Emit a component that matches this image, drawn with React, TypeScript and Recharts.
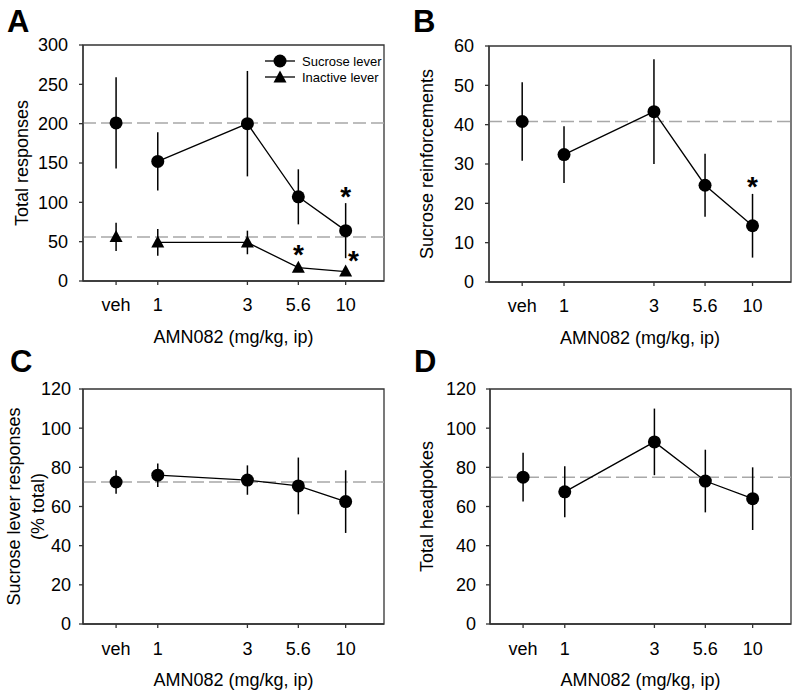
import {
  ComposedChart,
  Scatter,
  ErrorBar,
  XAxis,
  YAxis,
  ReferenceLine,
  ReferenceArea,
  Legend,
} from 'recharts';

const FONT = '"Liberation Sans", Arial, Helvetica, sans-serif';
const AXIS = '#333';

// dose axis is log; vehicle gets its own slot left of 1 mg/kg
const VEH_X = 0.6;
const doses = [1, 3, 5.6, 10];
const doseTicks = [VEH_X, 1, 3, 5.6, 10];
const doseLabels = ['veh', '1', '3', '5.6', '10'];
const X_DOMAIN = [0.4, 16];

// A - total responses
const respTicks = [0, 50, 100, 150, 200, 250, 300];
const legendNames = ['Sucrose lever', 'Inactive lever'];
const sucroseVeh = 201;
const sucroseVehErr = 58;
const sucroseLever = [152, 200, 107, 64];
const sucroseLeverErr = [37, 67, 35, 35];
const inactiveVeh = 56;
const inactiveVehErr = 18;
const inactiveLever = [49, 49, 17, 12];
const inactiveLeverErr = [17, 15, 4, 2];
const starsA = [
  { x: 10, y: 116 },
  { x: 5.6, y: 42 },
  { x: 11, y: 34 },
];

// B - sucrose reinforcements
const reinfTicks = [0, 10, 20, 30, 40, 50, 60];
const reinfVeh = 40.8;
const reinfVehErr = 10;
const reinf = [32.4, 43.3, 24.6, 14.3];
const reinfErr = [7.2, 13.3, 8, 8.1];
const starsB = [{ x: 10, y: 26 }];

// C - sucrose lever responses (% total)
const pctTicks = [0, 20, 40, 60, 80, 100, 120];
const pctVeh = 72.5;
const pctVehErr = 6;
const pct = [76, 73.5, 70.5, 62.5];
const pctErr = [6, 7.5, 14.5, 16];

// D - total headpokes
const headTicks = [0, 20, 40, 60, 80, 100, 120];
const headVeh = 75;
const headVehErr = 12.5;
const head = [67.5, 93, 73, 64];
const headErr = [13, 17, 16, 16];

const Dot = (p: any) => <circle cx={p.cx} cy={p.cy} r={6.5} fill="#000" />;
const Tri = (p: any) => (
  <path
    d={`M${p.cx},${p.cy - 7}L${p.cx + 6.5},${p.cy + 5}L${p.cx - 6.5},${p.cy + 5}Z`}
    fill="#000"
  />
);
const Star = (p: any) => (
  <text
    x={p.cx}
    y={p.cy + 16}
    textAnchor="middle"
    fontSize={28}
    fontWeight="bold"
    fontFamily={FONT}
    fill="#000"
  >
    *
  </text>
);

const XTitle = ({ viewBox }: any) => (
  <text
    x={viewBox.x + viewBox.width / 2}
    y={viewBox.y + 62}
    textAnchor="middle"
    fontSize={18}
    fontFamily={FONT}
    fill="#000"
  >
    AMN082 (mg/kg, ip)
  </text>
);

const YTitle = ({ viewBox, lines, dists }: any) => {
  const cy = viewBox.y + viewBox.height / 2;
  return (
    <g>
      {lines.map((t: string, i: number) => {
        const x = viewBox.x + viewBox.width - dists[i];
        return (
          <text
            key={t}
            x={x}
            y={cy}
            transform={`rotate(-90 ${x} ${cy})`}
            textAnchor="middle"
            fontSize={18}
            fontFamily={FONT}
            fill="#000"
          >
            {t}
          </text>
        );
      })}
    </g>
  );
};

// only the two dose series go in the key, sucrose first
const LegendBox = ({ payload }: any) => {
  const items = legendNames.filter((n) =>
    (payload || []).some((e: any) => e.value === n)
  );
  return (
    <div style={{ fontFamily: FONT, fontSize: 13, color: '#000', whiteSpace: 'nowrap' }}>
      {items.map((n) => (
        <div key={n} style={{ display: 'flex', alignItems: 'center', height: 16 }}>
          <svg width={30} height={16} style={{ marginRight: 7, flex: 'none' }}>
            <line x1={0} x2={30} y1={8} y2={8} stroke="#000" strokeWidth={1.3} />
            {n === 'Inactive lever' ? <Tri cx={15} cy={8.5} /> : <Dot cx={15} cy={8} />}
          </svg>
          <span>{n}</span>
        </div>
      ))}
    </div>
  );
};

const Panel = ({
  letter,
  left,
  top,
  height,
  margin,
  yTicks,
  yTitle,
  titleDists,
  yTickMargin,
  xTickMargin,
  groups,
  stars,
  showLegend,
  letterLeft,
}: any) => {
  const yMax = yTicks[yTicks.length - 1];
  return (
    <div style={{ position: 'absolute', left, top }}>
      <ComposedChart width={400} height={height} margin={margin}>
        <XAxis
          type="number"
          dataKey="x"
          scale="log"
          domain={X_DOMAIN}
          ticks={doseTicks}
          tickFormatter={(v: number) => doseLabels[doseTicks.indexOf(v)]}
          allowDataOverflow
          height={30}
          tickSize={4}
          tickMargin={xTickMargin}
          tick={{ fill: '#000', fontSize: 18, fontFamily: FONT }}
          axisLine={{ stroke: AXIS, strokeWidth: 1.3 }}
          tickLine={{ stroke: AXIS, strokeWidth: 1.3 }}
          label={<XTitle />}
        />
        <YAxis
          type="number"
          dataKey="y"
          domain={[0, yMax]}
          ticks={yTicks}
          width={60}
          tickSize={4}
          tickMargin={yTickMargin}
          tick={{ fill: '#000', fontSize: 18, fontFamily: FONT }}
          axisLine={{ stroke: AXIS, strokeWidth: 1.3 }}
          tickLine={{ stroke: AXIS, strokeWidth: 1.3 }}
          label={<YTitle lines={yTitle} dists={titleDists} />}
        />
        {groups.map((g: any) => (
          <ReferenceLine
            key={g.name + '-ref'}
            y={g.veh}
            stroke="#a8a8a8"
            strokeWidth={1.5}
            strokeDasharray="13 5"
          />
        ))}
        <ReferenceArea
          x1={X_DOMAIN[0]}
          x2={X_DOMAIN[1]}
          y1={0}
          y2={yMax}
          fill="none"
          fillOpacity={0}
          stroke={AXIS}
          strokeWidth={1.3}
        />
        {groups.flatMap((g: any) => [
          <Scatter
            key={g.name + '-veh'}
            name={g.name + ' veh'}
            data={[{ x: VEH_X, y: g.veh, err: g.vehErr }]}
            shape={g.shape}
            legendType="none"
            isAnimationActive={false}
          >
            <ErrorBar dataKey="err" direction="y" width={0} stroke="#000" strokeWidth={1.5} />
          </Scatter>,
          <Scatter
            key={g.name}
            name={g.name}
            data={doses.map((x, i) => ({ x, y: g.values[i], err: g.errs[i] }))}
            shape={g.shape}
            line={{ stroke: '#000', strokeWidth: 1.3 }}
            lineType="joint"
            isAnimationActive={false}
          >
            <ErrorBar dataKey="err" direction="y" width={0} stroke="#000" strokeWidth={1.5} />
          </Scatter>,
        ])}
        {stars && (
          <Scatter
            name="stars"
            data={stars}
            shape={Star}
            legendType="none"
            isAnimationActive={false}
          />
        )}
        {showLegend && (
          <Legend
            layout="vertical"
            align="center"
            verticalAlign="middle"
            content={<LegendBox />}
            wrapperStyle={{ left: 265, top: 53, width: 130, height: 32 }}
          />
        )}
      </ComposedChart>
      <div
        style={{
          position: 'absolute',
          left: letterLeft,
          top: 6,
          fontFamily: FONT,
          fontWeight: 'bold',
          fontSize: 31,
          lineHeight: 1,
        }}
      >
        {letter}
      </div>
    </div>
  );
};

export default function App() {
  return (
    <div
      style={{
        position: 'absolute',
        left: 0,
        top: 0,
        width: 800,
        height: 698,
        background: '#fff',
      }}
    >
      <Panel
        letter="A"
        letterLeft={7}
        left={0}
        top={0}
        height={349}
        margin={{ top: 45, right: 16, left: 23, bottom: 38 }}
        yTicks={respTicks}
        yTitle={['Total responses']}
        titleDists={[55]}
        yTickMargin={11}
        xTickMargin={13}
        showLegend
        stars={starsA}
        groups={[
          {
            name: 'Sucrose lever',
            veh: sucroseVeh,
            vehErr: sucroseVehErr,
            values: sucroseLever,
            errs: sucroseLeverErr,
            shape: Dot,
          },
          {
            name: 'Inactive lever',
            veh: inactiveVeh,
            vehErr: inactiveVehErr,
            values: inactiveLever,
            errs: inactiveLeverErr,
            shape: Tri,
          },
        ]}
      />
      <Panel
        letter="B"
        letterLeft={13}
        left={400}
        top={0}
        height={349}
        margin={{ top: 46, right: 9, left: 29, bottom: 37 }}
        yTicks={reinfTicks}
        yTitle={['Sucrose reinforcements']}
        titleDists={[56]}
        yTickMargin={11}
        xTickMargin={13}
        stars={starsB}
        groups={[
          { name: 'reinf', veh: reinfVeh, vehErr: reinfVehErr, values: reinf, errs: reinfErr, shape: Dot },
        ]}
      />
      <Panel
        letter="C"
        letterLeft={10}
        left={0}
        top={340}
        height={358}
        margin={{ top: 49, right: 16, left: 23, bottom: 44 }}
        yTicks={pctTicks}
        yTitle={['Sucrose lever responses', '(% total)']}
        titleDists={[63, 39]}
        yTickMargin={8}
        xTickMargin={14}
        groups={[
          { name: 'pct', veh: pctVeh, vehErr: pctVehErr, values: pct, errs: pctErr, shape: Dot },
        ]}
      />
      <Panel
        letter="D"
        letterLeft={14}
        left={400}
        top={340}
        height={358}
        margin={{ top: 49, right: 9, left: 30, bottom: 44 }}
        yTicks={headTicks}
        yTitle={['Total headpokes']}
        titleDists={[57]}
        yTickMargin={10}
        xTickMargin={14}
        groups={[
          { name: 'head', veh: headVeh, vehErr: headVehErr, values: head, errs: headErr, shape: Dot },
        ]}
      />
    </div>
  );
}
